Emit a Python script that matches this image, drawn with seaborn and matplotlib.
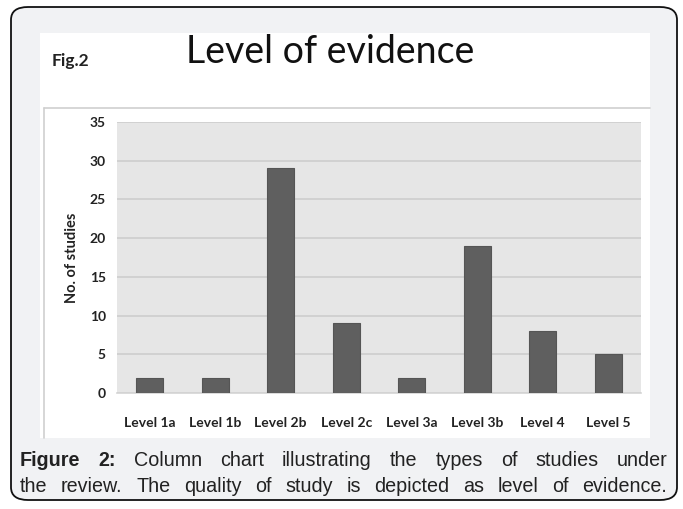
import matplotlib
matplotlib.use("Agg")
import matplotlib.pyplot as plt
from matplotlib.patches import FancyBboxPatch, Rectangle
from matplotlib.lines import Line2D
import seaborn as sns
import pandas as pd

# Data
levels = ["Level 1a", "Level 1b", "Level 2b", "Level 2c", "Level 3a", "Level 3b", "Level 4", "Level 5"]
studies = [2, 2, 29, 9, 2, 19, 8, 5]
y_ticks = [0, 5, 10, 15, 20, 25, 30, 35]

title_text = "Level of evidence"
fig_tag = "Fig.2"
y_label = "No. of studies"
caption_line1 = [("Figure", "bold"), ("2:", "bold"), ("Column", "normal"), ("chart", "normal"),
                 ("illustrating", "normal"), ("the", "normal"), ("types", "normal"), ("of", "normal"),
                 ("studies", "normal"), ("under", "normal")]
caption_line2 = "the review. The quality of study is depicted as level of evidence."

df = pd.DataFrame({"level": levels, "studies": studies})

W, H = 683, 509
sns.set_theme(style="white")
plt.rcParams["font.family"] = ["Lato", "DejaVu Sans"]

fig = plt.figure(figsize=(W / 100, H / 100), dpi=100)
fig.patch.set_facecolor("white")


def fx(px):
    return px / W


def fy(py):
    return 1 - py / H


# Rounded card with the light grey fill
card = FancyBboxPatch((fx(11), fy(500)), fx(677) - fx(11), fy(7) - fy(500),
                      boxstyle="round,pad=0,rounding_size=0.025",
                      transform=fig.transFigure, facecolor="#f1f2f4",
                      edgecolor="#111111", linewidth=1.3, zorder=-3)
fig.patches.append(card)

# White panel holding the chart image
panel = Rectangle((fx(40), fy(438)), fx(650) - fx(40), fy(33) - fy(438),
                  transform=fig.transFigure, facecolor="white", edgecolor="none", zorder=-2)
fig.patches.append(panel)

# Thin frame around the chart area
fig.lines.append(Line2D([fx(44), fx(650)], [fy(108), fy(108)], transform=fig.transFigure,
                        color="#cfcfcf", linewidth=1.2, zorder=-1))
fig.lines.append(Line2D([fx(44), fx(44)], [fy(108), fy(438)], transform=fig.transFigure,
                        color="#cfcfcf", linewidth=1.2, zorder=-1))

# Headings
fig.text(fx(52), fy(61), fig_tag, fontsize=12.5, fontweight="bold", color="#222222",
         ha="left", va="center")
fig.text(fx(330), fy(52), title_text, fontsize=27, color="#111111", ha="center", va="center")

# Plot area
ax = fig.add_axes([fx(117), fy(393), fx(641) - fx(117), fy(122) - fy(393)])
ax.set_facecolor("#e6e6e6")
sns.barplot(data=df, x="level", y="studies", color="#5f5f5f", width=0.41,
            edgecolor="#555555", linewidth=0.8, saturation=1, ax=ax, zorder=3)
ax.set_ylim(0, 35)
ax.set_yticks(y_ticks)
ax.set_xlim(-0.5, len(levels) - 0.5)
ax.grid(axis="y", color="#cdcdcd", linewidth=1.2, zorder=0)
ax.set_axisbelow(True)
for side, sp in ax.spines.items():
    sp.set_visible(side == "bottom")
ax.spines["bottom"].set_color("#d4d4d4")
ax.spines["bottom"].set_linewidth(1.2)
ax.tick_params(axis="both", length=0, labelsize=10, colors="#222222")
ax.tick_params(axis="y", pad=8)
ax.tick_params(axis="x", pad=17)
for lab in ax.get_xticklabels() + ax.get_yticklabels():
    lab.set_fontweight("bold")
ax.set_xlabel("")
ax.set_ylabel(y_label, fontsize=10.5, fontweight="bold", color="#222222", labelpad=8)

# Caption, both lines justified between the same margins
cap_font = ["Liberation Sans", "DejaVu Sans"]
cap_size = 14.2
renderer = fig.canvas.get_renderer()
left_px, right_px = 20, 667


def justified_line(words, y_px):
    texts = [fig.text(0, fy(y_px), w, fontsize=cap_size, fontweight=wt, family=cap_font,
                      color="#222222", ha="left", va="center") for w, wt in words]
    widths = [t.get_window_extent(renderer).width for t in texts]
    gap = (right_px - left_px - sum(widths)) / (len(texts) - 1)
    x = left_px
    for t, w in zip(texts, widths):
        t.set_x(fx(x))
        x += w + gap


justified_line(caption_line1, 461)
justified_line([(w, "normal") for w in caption_line2.split(" ")], 486)

fig.savefig("out.png", dpi=100, facecolor=fig.get_facecolor())
